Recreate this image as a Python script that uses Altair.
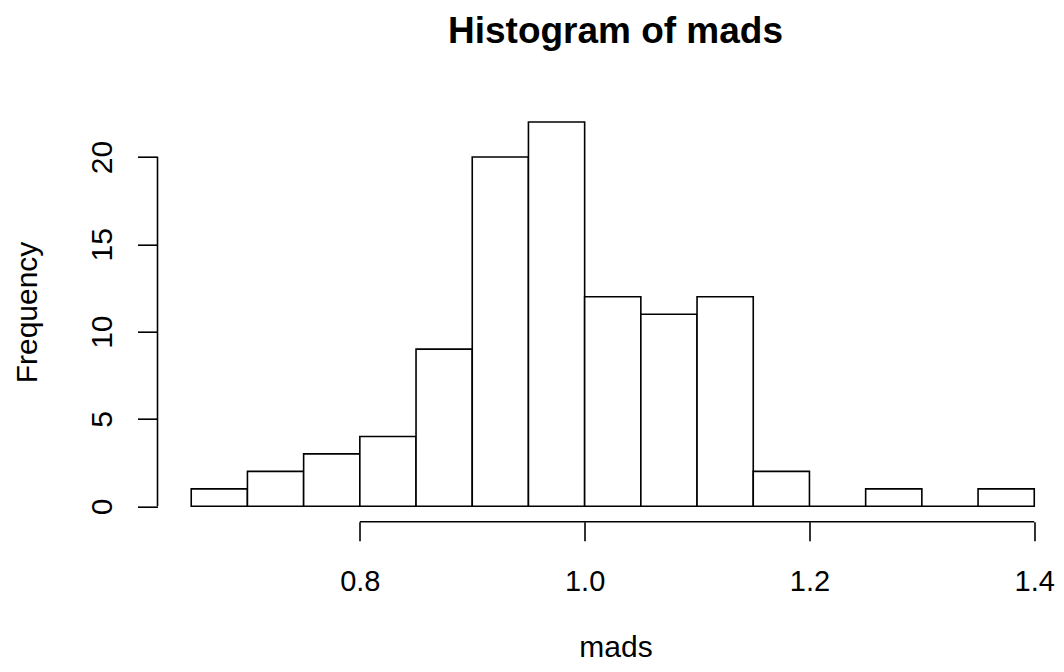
import altair as alt
import pandas as pd

# Histogram data
breaks = [0.65, 0.70, 0.75, 0.80, 0.85, 0.90, 0.95, 1.00, 1.05, 1.10, 1.15, 1.20, 1.25, 1.30, 1.35, 1.40]
counts = [1, 2, 3, 4, 9, 20, 22, 12, 11, 12, 2, 0, 1, 0, 1]
x_ticks = [0.8, 1.0, 1.2, 1.4]
y_ticks = [0, 5, 10, 15, 20]

FONT = "Liberation Sans"
LW = 1.6
W = 897
H = 415

bars = pd.DataFrame({"start": breaks[:-1], "end": breaks[1:], "count": counts})
xaxis_df = pd.DataFrame({"x": [min(x_ticks)], "x2": [max(x_ticks)]})
yaxis_df = pd.DataFrame({"y": [min(y_ticks)], "y2": [max(y_ticks)]})

xscale = alt.Scale(domain=[0.62, 1.418], nice=False, zero=False)
yscale = alt.Scale(domain=[-0.88, 22.88], nice=False, zero=False)

rects = alt.Chart(bars).mark_rect(fill="white", stroke="black", strokeWidth=LW).encode(
    x=alt.X("start:Q", scale=xscale, axis=alt.Axis(
        values=x_ticks, format=".1f", domain=False, grid=False,
        ticks=True, tickSize=19, tickColor="black", tickWidth=LW,
        labelFont=FONT, labelFontSize=29, labelColor="black",
        labelBaseline="alphabetic", labelPadding=49.5,
        labelFlush=False, labelOverlap=False,
        title="mads", titleFont=FONT, titleFontSize=30, titleFontWeight="normal",
        titleColor="black", titleX=458, titleY=135.3,
        titleBaseline="alphabetic", titleAlign="center")),
    x2="end:Q",
    y=alt.Y("count:Q", scale=yscale, axis=alt.Axis(
        values=y_ticks, domain=False, grid=False,
        ticks=True, tickSize=20, tickColor="black", tickWidth=LW,
        labelFont=FONT, labelFontSize=30, labelColor="black",
        labelAngle=270, labelAlign="center", labelBaseline="alphabetic",
        labelPadding=26, labelFlush=False, labelOverlap=False,
        title="Frequency", titleFont=FONT, titleFontSize=30, titleFontWeight="normal",
        titleColor="black", titleAngle=270, titleX=-121, titleY=205.3,
        titleBaseline="alphabetic", titleAlign="center")),
    y2=alt.datum(0),
)

xline = alt.Chart(xaxis_df).mark_rule(color="black", strokeWidth=LW).encode(
    x=alt.X("x:Q", scale=xscale), x2="x2:Q", y=alt.value(H)
)
yline = alt.Chart(yaxis_df).mark_rule(color="black", strokeWidth=LW).encode(
    y=alt.Y("y:Q", scale=yscale), y2="y2:Q", x=alt.value(0)
)

title = alt.Chart(pd.DataFrame({"t": ["Histogram of mads"]})).mark_text(
    font=FONT, fontSize=37, fontWeight="bold", color="black",
    align="center", baseline="alphabetic"
).encode(text="t:N", x=alt.value(458), y=alt.value(-63.7))

chart = alt.layer(rects, xline, yline, title).properties(
    width=W, height=H,
    autosize=alt.AutoSizeParams(type="none"),
    padding={"left": 149.5, "top": 98.7, "right": 1.5, "bottom": 142},
).configure(background="white").configure_view(stroke=None, strokeWidth=0)

chart.save("out.html", embed_options={"renderer": "svg", "actions": False})
